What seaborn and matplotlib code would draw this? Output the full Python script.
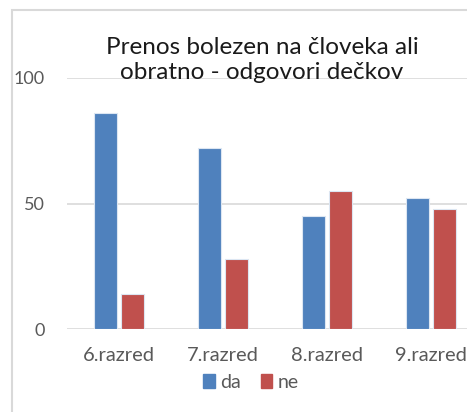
import pandas as pd
import seaborn as sns
import matplotlib.pyplot as plt
from matplotlib.patches import Rectangle

# values
razredi = ['6.razred', '7.razred', '8.razred', '9.razred']
da = [86, 72, 45, 52]
ne = [14, 28, 55, 48]
odgovori = ['da', 'ne']
barve = ['#4F81BD', '#C0504D']

df = pd.DataFrame({
    'razred': razredi * 2,
    'odgovor': ['da'] * 4 + ['ne'] * 4,
    'delez': da + ne,
})

sns.set_theme(style='white')
plt.rcParams['font.family'] = ['Lato', 'DejaVu Sans']

fig = plt.figure(figsize=(4.67, 4.12), dpi=100)
ax = fig.add_axes([67 / 467, 1 - 329 / 412, 416 / 467, 251 / 412])

sns.barplot(data=df, x='razred', y='delez', hue='odgovor', hue_order=odgovori,
            palette=barve, width=0.52, gap=0.12, saturation=1,
            edgecolor='#dce6f2', linewidth=0.8, legend=False, ax=ax)

ax.set_ylim(0, 100)
ax.set_yticks([0, 50, 100])
ax.yaxis.grid(True, color='#d9d9d9', linewidth=1.2)
ax.set_axisbelow(True)
for s in ax.spines.values():
    s.set_visible(False)
ax.set_xlabel('')
ax.set_ylabel('')
ax.tick_params(axis='y', length=0, pad=16, labelsize=13, labelcolor='#595959')
ax.tick_params(axis='x', length=0, pad=13, labelsize=14.5, labelcolor='#595959')

# title
fig.text(262 / 467, 1 - 60 / 412, 'Prenos bolezen na človeka ali\nobratno - odgovori dečkov',
         ha='center', va='center', fontsize=17.5, color='#1a1a1a', linespacing=1.2)

# legend
handles = [Rectangle((0, 0), 1, 1, color=c) for c in barve]
fig.legend(handles, odgovori, loc='center', bbox_to_anchor=(251 / 467, 1 - 382 / 412),
           ncol=2, frameon=False, fontsize=14, handlelength=0.6, handleheight=0.75,
           handletextpad=0.3, columnspacing=1.0, labelcolor='#595959')

# chart border (extends beyond the cropped image)
fig.patches.append(Rectangle((12 / 467, -0.1), 1.2, 1 - 10 / 412 + 0.1,
                             transform=fig.transFigure, fill=False,
                             edgecolor='#d9d9d9', linewidth=1.5))

fig.savefig('out.png', dpi=100)
